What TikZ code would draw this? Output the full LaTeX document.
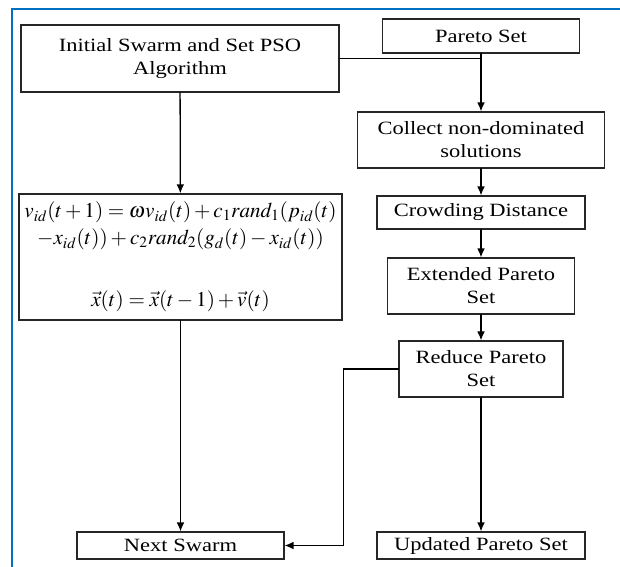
\documentclass[tikz,border=0pt]{standalone}
\usepackage{graphicx}
\usepackage{mathptmx}
\usepackage{fontspec}
\setmainfont[FakeStretch=1.2]{Liberation Serif}
\usetikzlibrary{arrows.meta}
\definecolor{framecol}{RGB}{0,112,192}

\begin{document}
\begin{tikzpicture}[x=0.03cm,y=-0.03cm,>={Latex[length=2.7mm,width=2.3mm]},font=\fontsize{16}{19.5}\selectfont,line cap=round,
  box/.style={draw=black!85,line width=1pt,align=center,inner sep=0pt},
  flow/.style={->,line width=1.1pt}]
\useasboundingbox (0,0) rectangle (620,567);
\draw[framecol,line width=1.8pt] (12,567) -- (12,9) -- (620,9);
% left column
\node[box,minimum width=9.54cm,minimum height=2.01cm] (init) at (180,58.5) {Initial Swarm and Set PSO\\Algorithm};
\node[box,minimum width=9.69cm,minimum height=3.78cm,font=\fontsize{18}{23}\selectfont] (eq) at (180.5,257)
  {$v_{id}(t+1)=\omega v_{id}(t)+c_1 rand_1(p_{id}(t)$\\
   $-x_{id}(t))+c_2 rand_2(g_d(t)-x_{id}(t))$\\[30pt]
   $\vec{x}(t)=\vec{x}(t-1)+\vec{v}(t)$};
\node[box,minimum width=6.21cm,minimum height=0.81cm] (next) at (180.5,545.5) {Next Swarm};
% right column
\node[box,minimum width=5.91cm,minimum height=1.02cm] (pareto) at (481,36) {Pareto Set};
\node[box,minimum width=7.41cm,minimum height=1.68cm] (collect) at (481,140) {Collect non-dominated\\solutions};
\node[box,minimum width=6.24cm,minimum height=0.99cm] (crowd) at (481,212.5) {Crowding Distance};
\node[box,minimum width=5.61cm,minimum height=1.68cm] (ext) at (481,286) {Extended Pareto\\Set};
\node[box,minimum width=4.92cm,minimum height=1.68cm] (reduce) at (481,369) {Reduce Pareto\\Set};
\node[box,minimum width=6.24cm,minimum height=0.81cm] (upd) at (481,545.5) {Updated Pareto Set};
% connectors
\draw[line width=1.1pt] (init.east) -- (init.east -| pareto.south);
\draw[flow] (pareto.south) -- (collect.north);
\draw[flow] (collect) -- (crowd);
\draw[flow] (crowd) -- (ext);
\draw[flow] (ext) -- (reduce);
\draw[flow] (reduce) -- (upd);
\draw[flow] (reduce.west) -- ++(-55,0) |- (next.east);
\draw[flow] (init) -- (eq);
\draw[flow] (eq) -- (next);
\end{tikzpicture}
\end{document}
